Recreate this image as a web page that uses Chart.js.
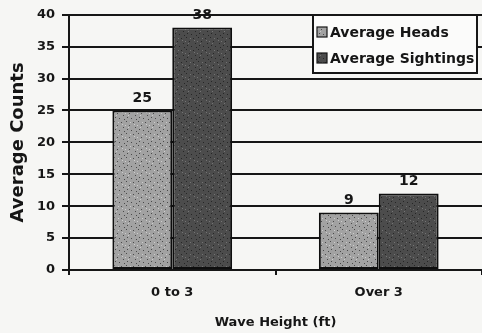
<!DOCTYPE html>
<html>
<head>
<meta charset="utf-8">
<script src="https://cdn.jsdelivr.net/npm/chart.js@4.4.1/dist/chart.umd.min.js"></script>
<style>
  html, body { margin: 0; padding: 0; background: #f6f6f4; }
  #wrap { width: 482px; height: 333px; }
</style>
</head>
<body>
<div id="wrap"><canvas id="c" width="482" height="333"></canvas></div>
<script>
// Wave height groups and the averaged counts for each
const categories = ['0 to 3', 'Over 3'];
const averageHeads = [25, 9];
const averageSightings = [38, 12];
const seriesNames = ['Average Heads', 'Average Sightings'];
const yTicks = [0, 5, 10, 15, 20, 25, 30, 35, 40];

const FONT = '"DejaVu Sans", sans-serif';
const INK = '#161616';

// Stippled fill, like a photocopied halftone
function stipple(base, dot, light) {
  const p = document.createElement('canvas');
  p.width = 12; p.height = 12;
  const g = p.getContext('2d');
  g.fillStyle = base; g.fillRect(0, 0, 12, 12);
  g.fillStyle = dot;
  [[1,2],[6,1],[9,5],[3,7],[7,9],[11,10],[4,11]].forEach(([x, y]) => g.fillRect(x, y, 1, 1));
  g.fillStyle = light;
  [[10,2],[2,4],[8,7],[5,5]].forEach(([x, y]) => g.fillRect(x, y, 1, 1));
  return g.createPattern(p, 'repeat');
}
const headsFill = stipple('#a2a2a2', '#4a4a4a', '#cccccc');
const sightFill = stipple('#4c4c4c', '#262626', '#737373');

const background = {
  id: 'background',
  beforeDraw(chart) {
    const c = chart.ctx;
    c.save();
    c.fillStyle = '#f6f6f4';
    c.fillRect(0, 0, chart.width, chart.height);
    c.restore();
  }
};

// Value labels above each bar
const valueLabels = {
  id: 'valueLabels',
  afterDatasetsDraw(chart) {
    const c = chart.ctx;
    c.save();
    c.font = 'bold 14px ' + FONT;
    c.fillStyle = INK;
    c.textAlign = 'center';
    c.textBaseline = 'bottom';
    chart.data.datasets.forEach((ds, i) => {
      chart.getDatasetMeta(i).data.forEach((bar, j) => {
        c.fillText(String(ds.data[j]), bar.x, bar.y - 5);
      });
    });
    c.restore();
  }
};

// Boxed legend sitting in the upper right of the plot
const boxLegend = {
  id: 'boxLegend',
  afterDraw(chart) {
    const c = chart.ctx;
    const x = 313, y = 15, w = 164, h = 58;
    c.save();
    c.fillStyle = '#fbfbfa';
    c.fillRect(x, y, w, h);
    c.strokeStyle = INK;
    c.lineWidth = 2;
    c.strokeRect(x, y, w, h);
    c.font = 'bold 14px ' + FONT;
    c.textBaseline = 'middle';
    c.textAlign = 'left';
    chart.data.datasets.forEach((ds, i) => {
      const cy = y + 17 + i * 26;
      c.fillStyle = ds.backgroundColor;
      c.fillRect(x + 4, cy - 5, 10, 10);
      c.strokeStyle = INK;
      c.lineWidth = 1.2;
      c.strokeRect(x + 4, cy - 5, 10, 10);
      c.fillStyle = INK;
      c.fillText(ds.label, x + 17, cy + 1);
    });
    c.restore();
  }
};

new Chart(document.getElementById('c'), {
  type: 'bar',
  data: {
    labels: categories,
    datasets: [
      { label: seriesNames[0], data: averageHeads, backgroundColor: headsFill,
        borderColor: '#0e0e0e', borderWidth: 2, borderSkipped: false },
      { label: seriesNames[1], data: averageSightings, backgroundColor: sightFill,
        borderColor: '#0e0e0e', borderWidth: 2, borderSkipped: false }
    ]
  },
  options: {
    responsive: false,
    animation: false,
    devicePixelRatio: 1,
    layout: { padding: { top: 14, right: 0, bottom: 0, left: 0 } },
    plugins: { legend: { display: false }, tooltip: { enabled: false } },
    datasets: { bar: { barPercentage: 1, categoryPercentage: 0.58 } },
    scales: {
      x: {
        offset: true,
        afterFit(scale) { scale.height = 63; },
        grid: { display: true, drawOnChartArea: false, drawTicks: true, tickLength: 5,
                color: INK, lineWidth: 2 },
        border: { display: true, color: INK, width: 2 },
        ticks: { color: INK, padding: 10, font: { family: FONT, size: 13, weight: 'bold' } },
        title: { display: true, text: 'Wave Height (ft)', color: INK,
                 padding: { top: 0, bottom: 3 },
                 font: { family: FONT, size: 13, weight: 'bold' } }
      },
      y: {
        min: 0, max: 40,
        afterFit(scale) { scale.width = 69; },
        afterBuildTicks(scale) { scale.ticks = yTicks.map(v => ({ value: v })); },
        grid: { color: INK, lineWidth: 2, tickLength: 7 },
        border: { display: true, color: INK, width: 2 },
        ticks: { color: INK, padding: 7, font: { family: FONT, size: 13, weight: 'bold' } },
        title: { display: true, text: 'Average Counts', color: INK,
                 padding: { top: 8, bottom: 0 },
                 font: { family: FONT, size: 18, weight: 'bold' } }
      }
    }
  },
  plugins: [background, valueLabels, boxLegend]
});
</script>
</body>
</html>
